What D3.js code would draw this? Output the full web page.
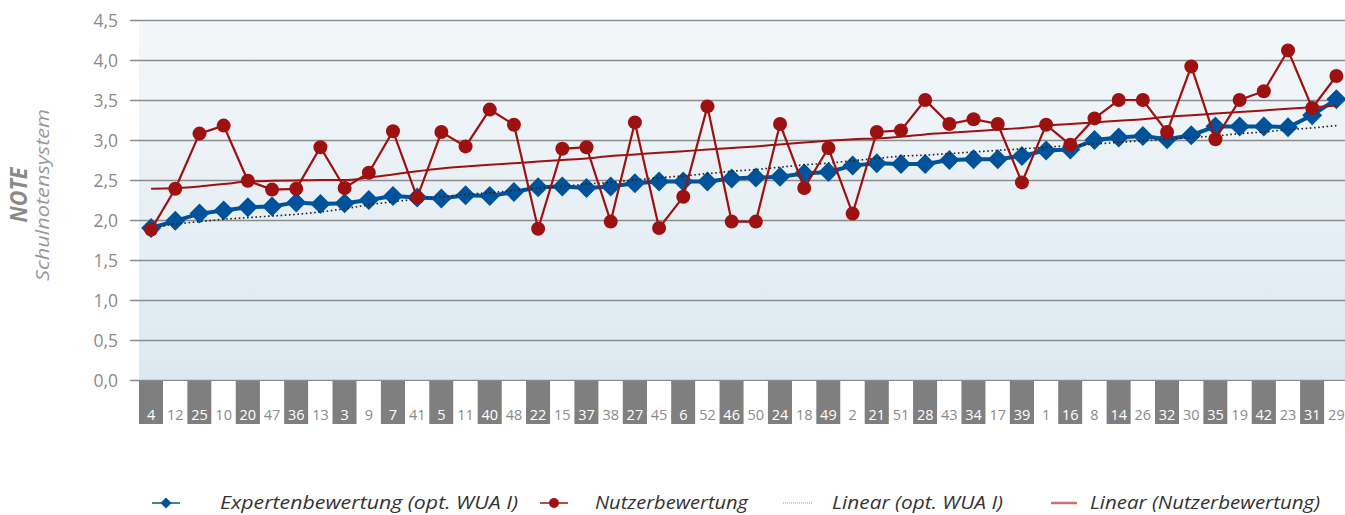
<!DOCTYPE html>
<html>
<head>
<meta charset="utf-8">
<script src="https://cdn.jsdelivr.net/npm/d3@7"></script>
<style>
  html, body { margin: 0; padding: 0; background: #fff; }
  svg { display: block; font-family: "Open Sans", "Noto Sans", sans-serif; }
</style>
</head>
<body>
<svg id="chart" width="1345" height="515"></svg>
<script>
// ── Data ────────────────────────────────────────────────
const categories = ['4','12','25','10','20','47','36','13','3','9','7','41','5','11','40','48','22','15','37','38',
  '27','45','6','52','46','50','24','18','49','2','21','51','28','43','34','17','39','1','16','8',
  '14','26','32','30','35','19','42','23','31','29'];

const expert = [1.90,1.99,2.08,2.12,2.16,2.17,2.22,2.20,2.21,2.25,2.30,2.28,2.27,2.31,2.30,2.35,2.41,2.42,2.40,2.42,
  2.46,2.48,2.48,2.48,2.52,2.53,2.54,2.58,2.60,2.68,2.71,2.70,2.70,2.75,2.76,2.76,2.80,2.87,2.88,3.00,
  3.03,3.05,3.01,3.06,3.17,3.17,3.17,3.16,3.31,3.51];

const users = [1.88,2.39,3.08,3.18,2.49,2.38,2.39,2.91,2.40,2.59,3.11,2.28,3.10,2.92,3.38,3.19,1.89,2.89,2.91,1.98,
  3.22,1.90,2.29,3.42,1.98,1.98,3.20,2.40,2.90,2.08,3.10,3.12,3.50,3.20,3.26,3.20,2.47,3.19,2.94,3.27,
  3.50,3.50,3.10,3.92,3.01,3.50,3.61,4.12,3.40,3.80];

const trendExpert = [1.90,1.95,1.98,2.01,2.03,2.05,2.07,2.10,2.14,2.19,2.23,2.26,2.29,2.32,2.34,2.37,2.40,2.42,2.45,2.47,
  2.50,2.53,2.55,2.58,2.61,2.63,2.66,2.69,2.71,2.74,2.77,2.80,2.81,2.83,2.85,2.87,2.89,2.91,2.93,2.95,
  2.97,2.99,3.01,3.03,3.05,3.08,3.10,3.13,3.15,3.18];

const trendUsers = [2.39,2.40,2.42,2.45,2.48,2.49,2.495,2.50,2.50,2.53,2.57,2.61,2.645,2.67,2.69,2.71,2.73,2.75,2.77,2.80,
  2.82,2.84,2.86,2.88,2.90,2.92,2.945,2.97,2.99,3.01,3.02,3.04,3.07,3.09,3.11,3.13,3.15,3.18,3.20,3.22,
  3.24,3.26,3.29,3.31,3.33,3.35,3.37,3.39,3.41,3.43];

const yTicks = [0, 0.5, 1, 1.5, 2, 2.5, 3, 3.5, 4, 4.5];

const legendItems = ['Expertenbewertung (opt. WUA I)', 'Nutzerbewertung', 'Linear (opt. WUA I)', 'Linear (Nutzerbewertung)'];

// ── Setup ───────────────────────────────────────────────
const BLUE = '#00539b';
const RED  = '#9e1111';
const GRID = '#8c8c8c';
const TXT  = '#8a8a8a';

const svg = d3.select('#chart');
const W = 1345;

const plotLeft = 139, bandW = 24.19;
const x = d3.scaleBand().domain(categories).range([plotLeft, plotLeft + bandW * categories.length]);
const cx = c => x(c) + x.bandwidth() / 2;
const y = d3.scaleLinear().domain([0, 4.5]).range([380, 20]);

const de = d3.formatLocale({ decimal: ',', thousands: '.', grouping: [3], currency: ['', '€'] });

// background gradient
const defs = svg.append('defs');
const grad = defs.append('linearGradient').attr('id', 'bg').attr('x1', 0).attr('y1', 0).attr('x2', 0).attr('y2', 1);
grad.append('stop').attr('offset', '0%').attr('stop-color', '#f4f7fa');
grad.append('stop').attr('offset', '100%').attr('stop-color', '#dce9f0');

svg.append('rect')
  .attr('x', plotLeft).attr('y', y(4.5))
  .attr('width', W - plotLeft).attr('height', y(0) - y(4.5))
  .attr('fill', 'url(#bg)');

// y axis + gridlines
const yAxis = svg.append('g')
  .attr('transform', 'translate(130,0)')
  .call(d3.axisLeft(y).tickValues(yTicks).tickFormat(de.format('.1f'))
    .tickSizeInner(-(W - 130)).tickSizeOuter(0).tickPadding(12));
yAxis.select('.domain').remove();
yAxis.selectAll('.tick line').attr('stroke', GRID).attr('stroke-width', 1.6);
yAxis.selectAll('.tick text').attr('fill', TXT).attr('font-size', 17.5).attr('dy', '0.35em')
  .attr('font-family', '"Open Sans", sans-serif');

// category boxes
const cat = svg.append('g').selectAll('g').data(categories).join('g');
cat.append('rect')
  .attr('x', d => x(d)).attr('y', 381)
  .attr('width', x.bandwidth()).attr('height', 43)
  .attr('fill', (d, i) => i % 2 === 0 ? '#7f7f7f' : '#ffffff');
cat.append('text')
  .attr('x', d => cx(d)).attr('y', 420)
  .attr('text-anchor', 'middle')
  .attr('font-size', 14.5)
  .attr('fill', (d, i) => i % 2 === 0 ? '#ffffff' : '#8a8a8a')
  .text(d => d);

// y title
svg.append('text')
  .attr('transform', 'translate(27,195) rotate(-90)')
  .attr('text-anchor', 'middle')
  .attr('font-size', 23).attr('font-weight', 'bold').attr('font-style', 'italic')
  .attr('textLength', 55).attr('lengthAdjust', 'spacingAndGlyphs')
  .attr('fill', TXT)
  .text('NOTE');
svg.append('text')
  .attr('transform', 'translate(49,195) rotate(-90)')
  .attr('text-anchor', 'middle')
  .attr('font-size', 19).attr('font-style', 'italic')
  .attr('textLength', 172).attr('lengthAdjust', 'spacingAndGlyphs')
  .attr('fill', '#999')
  .text('Schulnotensystem');

// ── Series ──────────────────────────────────────────────
const line = d3.line().x((d, i) => cx(categories[i])).y(d => y(d));
const diamond = d3.symbol().type(d3.symbolSquare).size(200);

// expert
svg.append('path').datum(expert)
  .attr('d', line).attr('fill', 'none').attr('stroke', BLUE).attr('stroke-width', 4);
svg.append('g').selectAll('path').data(expert).join('path')
  .attr('d', diamond)
  .attr('transform', (d, i) => `translate(${cx(categories[i])},${y(d)}) rotate(45)`)
  .attr('fill', BLUE);

// expert trend (dotted)
svg.append('path').datum(trendExpert)
  .attr('d', line).attr('fill', 'none')
  .attr('stroke', '#222').attr('stroke-width', 1.6).attr('stroke-dasharray', '1.6,2.6');

// users
svg.append('path').datum(users)
  .attr('d', line).attr('fill', 'none').attr('stroke', RED).attr('stroke-width', 2.2);
svg.append('g').selectAll('circle').data(users).join('circle')
  .attr('cx', (d, i) => cx(categories[i])).attr('cy', d => y(d)).attr('r', 7)
  .attr('fill', RED);

// users trend
svg.append('path').datum(trendUsers)
  .attr('d', d3.line().curve(d3.curveMonotoneX).x((d, i) => cx(categories[i])).y(d => y(d)))
  .attr('fill', 'none').attr('stroke', RED).attr('stroke-width', 2);

// ── Legend ──────────────────────────────────────────────
const LY = 503;
const leg = svg.append('g');
const legText = [
  { x: 220, w: 298 },
  { x: 595, w: 153 },
  { x: 832, w: 171 },
  { x: 1090, w: 230 },
];
leg.selectAll('text').data(legendItems).join('text')
  .attr('x', (d, i) => legText[i].x).attr('y', LY + 6)
  .attr('textLength', (d, i) => legText[i].w).attr('lengthAdjust', 'spacingAndGlyphs')
  .attr('font-size', 18.5).attr('font-style', 'italic').attr('fill', '#333')
  .attr('font-family', '"Open Sans", sans-serif')
  .text(d => d);

leg.append('line').attr('x1', 152).attr('x2', 180).attr('y1', LY).attr('y2', LY)
  .attr('stroke', BLUE).attr('stroke-width', 1.5);
leg.append('path').attr('d', d3.symbol().type(d3.symbolSquare).size(60))
  .attr('transform', `translate(166,${LY}) rotate(45)`).attr('fill', BLUE);

leg.append('line').attr('x1', 540).attr('x2', 568).attr('y1', LY).attr('y2', LY)
  .attr('stroke', RED).attr('stroke-width', 1.5);
leg.append('circle').attr('cx', 554).attr('cy', LY).attr('r', 5).attr('fill', RED);

leg.append('line').attr('x1', 783).attr('x2', 812).attr('y1', LY).attr('y2', LY)
  .attr('stroke', '#999').attr('stroke-width', 1).attr('stroke-dasharray', '1,1');

leg.append('line').attr('x1', 1051).attr('x2', 1077).attr('y1', LY).attr('y2', LY)
  .attr('stroke', '#c87070').attr('stroke-width', 2.5);
</script>
</body>
</html>
